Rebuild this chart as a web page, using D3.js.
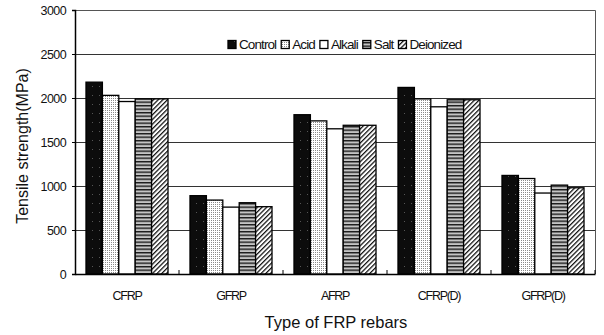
<!DOCTYPE html>
<html>
<head>
<meta charset="utf-8">
<script src="https://cdn.jsdelivr.net/npm/d3@7"></script>
<style>
  html, body { margin: 0; padding: 0; background: #fff; }
  svg { display: block; font-family: "Liberation Sans", Arial, sans-serif; }
</style>
</head>
<body>
<svg id="chart" width="604" height="335"></svg>
<script>
// Tensile strength of FRP rebars after immersion in each solution
const categories = ["CFRP", "GFRP", "AFRP", "CFRP(D)", "GFRP(D)"];
const seriesNames = ["Control", "Acid", "Alkali", "Salt", "Deionized"];
const control   = [2180, 890, 1810, 2120, 1120];
const acid      = [2030, 840, 1740, 1990, 1085];
const alkali    = [1960, 760, 1650, 1900, 920];
const salt      = [1990, 810, 1690, 1980, 1010];
const deionized = [1990, 765, 1690, 1980, 980];
const yTicks = [0, 500, 1000, 1500, 2000, 2500, 3000];

const seriesValues = [control, acid, alkali, salt, deionized];
const fills = ["url(#pControl)", "url(#pAcid)", "#fff", "url(#pSalt)", "url(#pDeion)"];

const svg = d3.select("#chart");
const plot = { left: 75, right: 595, top: 10, bottom: 274 };

// ---- fill patterns ----
const defs = svg.append("defs");

const pc = defs.append("pattern").attr("id", "pControl")
  .attr("patternUnits", "userSpaceOnUse").attr("width", 7).attr("height", 9);
pc.append("rect").attr("width", 7).attr("height", 9).attr("fill", "#0c0c0c");
pc.append("rect").attr("x", 3).attr("y", 5).attr("width", 1).attr("height", 1).attr("fill", "#555");

const pa = defs.append("pattern").attr("id", "pAcid")
  .attr("patternUnits", "userSpaceOnUse").attr("width", 2).attr("height", 2);
pa.append("rect").attr("width", 2).attr("height", 2).attr("fill", "#fff");
pa.append("rect").attr("width", 1).attr("height", 1).attr("fill", "#8a8a8a");

const ps = defs.append("pattern").attr("id", "pSalt")
  .attr("patternUnits", "userSpaceOnUse").attr("width", 4).attr("height", 3.5);
ps.append("rect").attr("width", 4).attr("height", 3.5).attr("fill", "#c4c4c4");
ps.append("rect").attr("y", 0).attr("width", 4).attr("height", 1.4).attr("fill", "#1a1a1a");

const pd = defs.append("pattern").attr("id", "pDeion")
  .attr("patternUnits", "userSpaceOnUse").attr("width", 3.3).attr("height", 10)
  .attr("patternTransform", "rotate(45)");
pd.append("rect").attr("width", 3.3).attr("height", 10).attr("fill", "#fff");
pd.append("rect").attr("width", 1.25).attr("height", 10).attr("fill", "#111");

// ---- scales ----
const x0 = d3.scaleBand().domain(categories).range([plot.left, plot.right])
  .paddingInner(0).paddingOuter(0);
const x1 = d3.scaleBand().domain(seriesNames).range([0, x0.bandwidth()])
  .paddingInner(0).paddingOuter(0.67);
const y = d3.scaleLinear().domain([0, 3000]).range([plot.bottom, plot.top]);

// ---- gridlines ----
svg.append("g").selectAll("line")
  .data(yTicks.filter(t => t > 0 && t < 3000))
  .join("line")
  .attr("x1", plot.left).attr("x2", plot.right)
  .attr("y1", d => Math.round(y(d)) + 0.5).attr("y2", d => Math.round(y(d)) + 0.5)
  .attr("stroke", "#333").attr("stroke-width", 1);

// plot frame (top and right)
svg.append("path")
  .attr("d", `M${plot.left},${plot.top + 0.5}H${plot.right + 0.5}V${plot.bottom}`)
  .attr("fill", "none").attr("stroke", "#555").attr("stroke-width", 1);

// ---- bars ----
const groups = svg.append("g").selectAll("g")
  .data(categories)
  .join("g")
  .attr("transform", d => `translate(${x0(d)},0)`);

groups.selectAll("rect")
  .data((c, ci) => seriesNames.map((s, si) => ({ s, si, v: seriesValues[si][ci] })))
  .join("rect")
  .attr("x", d => x1(d.s))
  .attr("width", x1.bandwidth())
  .attr("y", d => y(d.v))
  .attr("height", d => y(0) - y(d.v))
  .attr("fill", d => fills[d.si])
  .attr("stroke", "#000")
  .attr("stroke-width", 1.3);

// ---- axes ----
const yAxis = d3.axisLeft(y).tickValues(yTicks).tickFormat(d3.format("d"))
  .tickSize(3).tickPadding(6);
const gy = svg.append("g").attr("transform", `translate(${plot.left},0)`).call(yAxis);
gy.select(".domain").attr("stroke", "#000").attr("stroke-width", 1.5);
gy.selectAll(".tick line").attr("stroke", "#000");
gy.selectAll(".tick text")
  .attr("font-size", 12.5).attr("letter-spacing", -0.6).attr("fill", "#111")
  .attr("font-family", "'Liberation Sans', Arial, sans-serif");

const xAxis = d3.axisBottom(x0).tickSize(0).tickPadding(17);
const gx = svg.append("g").attr("transform", `translate(0,${plot.bottom})`).call(xAxis);
gx.select(".domain").attr("stroke", "#000").attr("stroke-width", 1.6);
gx.selectAll(".tick text")
  .attr("font-size", 12.5).attr("letter-spacing", -1.3).attr("fill", "#111")
  .attr("font-family", "'Liberation Sans', Arial, sans-serif");

// category separator ticks pointing inward
svg.append("g").selectAll("line")
  .data(categories)
  .join("line")
  .attr("x1", d => x0(d) + x0.bandwidth()).attr("x2", d => x0(d) + x0.bandwidth())
  .attr("y1", plot.bottom).attr("y2", plot.bottom - 4)
  .attr("stroke", "#000").attr("stroke-width", 1);

// ---- axis titles ----
svg.append("text")
  .attr("x", (plot.left + plot.right) / 2 + 1).attr("y", 328)
  .attr("text-anchor", "middle").attr("font-size", 16.5).attr("fill", "#111")
  .text("Type of FRP rebars");

svg.append("text")
  .attr("transform", `translate(28,${(plot.top + plot.bottom) / 2 + 4}) rotate(-90)`)
  .attr("text-anchor", "middle").attr("font-size", 16).attr("fill", "#111")
  .text("Tensile strength(MPa)");

// ---- legend: items laid out one after another from their text widths ----
const legend = svg.append("g");
const legendBg = legend.append("rect").attr("y", 36).attr("height", 17).attr("fill", "#fff");
let lx = 228;
seriesNames.forEach((s, i) => {
  legend.append("rect").attr("x", lx).attr("y", 40.5).attr("width", 8).attr("height", 8)
    .attr("fill", fills[i]).attr("stroke", "#000").attr("stroke-width", 1.3);
  const t = legend.append("text").attr("x", lx + 11).attr("y", 49)
    .attr("font-size", 13.5).attr("letter-spacing", -0.9).attr("fill", "#111")
    .text(s);
  lx += 11 + t.node().getComputedTextLength() + 5;
});
legendBg.attr("x", 222).attr("width", lx - 222 + 2);
</script>
</body>
</html>
